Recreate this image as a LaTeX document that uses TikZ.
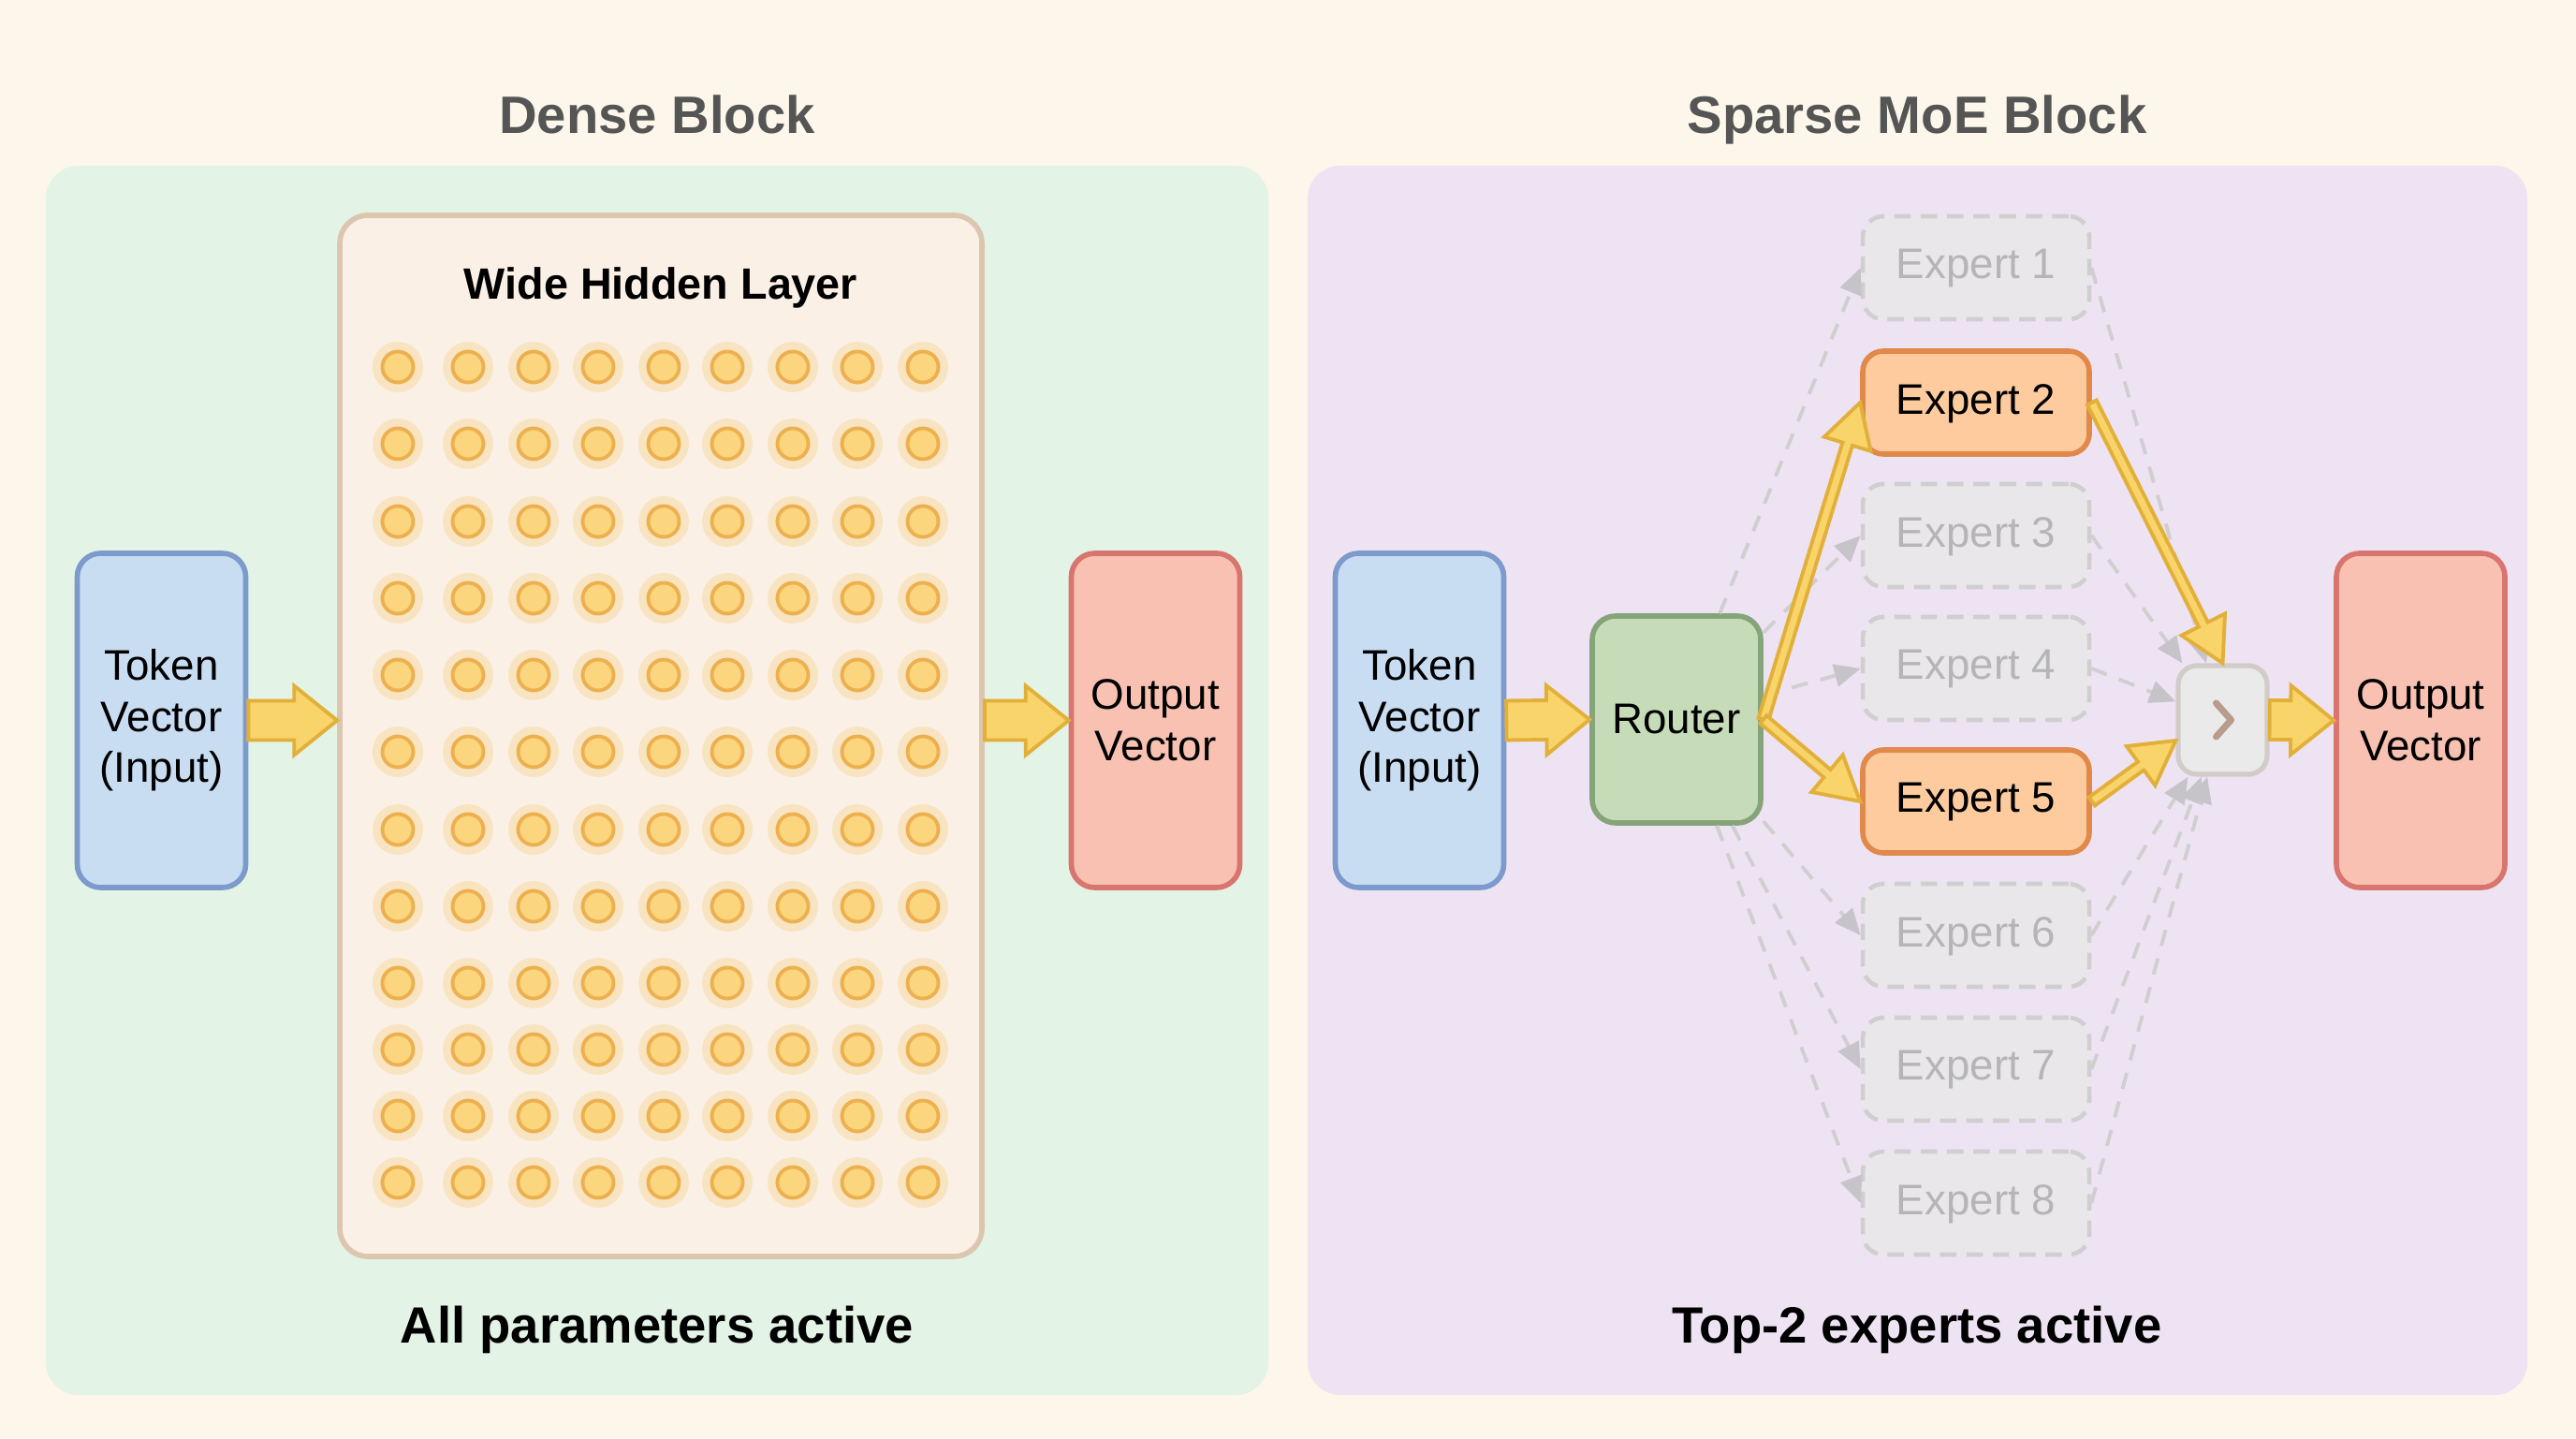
\documentclass[tikz,border=0pt]{standalone}
\usepackage{fontspec}
\setmainfont{Liberation Sans}
\usepackage{xcolor}
\usetikzlibrary{calc,positioning,arrows.meta}

\definecolor{pagebg}{HTML}{FCF7EA}
\definecolor{densebg}{HTML}{E3F3E5}
\definecolor{sparsebg}{HTML}{EEE3F3}
\definecolor{titlegray}{HTML}{555555}
\definecolor{tokfill}{HTML}{C8DCF2}
\definecolor{tokedge}{HTML}{7C9ACB}
\definecolor{outfill}{HTML}{F8C1B1}
\definecolor{outedge}{HTML}{D9756F}
\definecolor{routfill}{HTML}{C6DCB8}
\definecolor{routedge}{HTML}{86A47A}
\definecolor{hidfill}{HTML}{FAF0E6}
\definecolor{hidedge}{HTML}{DCC6B0}
\definecolor{expfill}{HTML}{FDCB9E}
\definecolor{expedge}{HTML}{E0894A}
\definecolor{idlefill}{HTML}{EAE7EB}
\definecolor{idleedge}{HTML}{CFCFCF}
\definecolor{idletip}{HTML}{C6C4C8}
\definecolor{idletext}{HTML}{B5B5B5}
\definecolor{arrowfill}{HTML}{F8D46A}
\definecolor{arrowedge}{HTML}{E2B03A}
\definecolor{dotfill}{HTML}{FCD67E}
\definecolor{dotedge}{HTML}{EDB04F}
\definecolor{dotglow}{HTML}{F7C766}
\definecolor{combfill}{HTML}{EAEAEA}
\definecolor{combedge}{HTML}{D2CCC8}
\definecolor{chevron}{HTML}{B89C8E}

\tikzset{
  fatarrow/.style n args={3}{draw=arrowedge, fill=arrowfill, line width=1.1pt, line join=miter,
    to path={let \p1=(\tikztostart), \p2=(\tikztotarget),
        \n1={atan2(\y2-\y1,\x2-\x1)}, \n2={veclen(\x2-\x1,\y2-\y1)} in
      ($(\p1)+(\n1+90:#1)$)
      -- ($(\p1)+(\n1:\n2-#3)+(\n1+90:#1)$)
      -- ($(\p1)+(\n1:\n2-#3)+(\n1+90:#2)$)
      -- (\p2)
      -- ($(\p1)+(\n1:\n2-#3)+(\n1-90:#2)$)
      -- ($(\p1)+(\n1:\n2-#3)+(\n1-90:#1)$)
      -- ($(\p1)+(\n1-90:#1)$) -- cycle}}
}

\begin{document}
\begin{tikzpicture}[
  txt/.style={font=\fontsize{13}{15.5}\selectfont, align=center},
  vecbox/.style={rectangle, txt, line width=1.6pt, rounded corners=0.25cm, minimum width=1.8cm, minimum height=3.57cm},
  tokbox/.style={vecbox, draw=tokedge, fill=tokfill},
  outbox/.style={vecbox, draw=outedge, fill=outfill},
  routbox/.style={rectangle, txt, draw=routedge, fill=routfill, line width=1.6pt, rounded corners=0.25cm, minimum width=1.8cm, minimum height=2.21cm},
  expert/.style={rectangle, txt, text depth=0.4ex, draw=expedge, fill=expfill, line width=1.6pt, rounded corners=0.22cm, minimum width=2.42cm, minimum height=1.1cm},
  idle/.style={rectangle, txt, text depth=0.4ex, text=idletext, draw=idleedge, fill=idlefill, line width=1.3pt, dash pattern=on 5pt off 3pt, rounded corners=0.22cm, minimum width=2.42cm, minimum height=1.1cm},
  idlearrow/.style={draw=idleedge, line width=1.1pt, dash pattern=on 5pt off 4pt, -{Triangle[length=0.28cm, width=0.24cm, color=idletip]}},
  blockarrow/.style={fatarrow={0.21cm}{0.37cm}{0.46cm}},
  thinarrow/.style={fatarrow={0.055cm}{0.26cm}{0.46cm}},
  paneltitle/.style={anchor=base, font=\fontsize{16}{19}\selectfont\bfseries, text=titlegray},
  panelnote/.style={anchor=base, font=\fontsize{15.5}{19}\selectfont\bfseries, text=black}
]

% Page and panels
\fill[pagebg] (0,0) rectangle (27.52,15.36);
\useasboundingbox (0,0) rectangle (27.52,15.36);
\fill[densebg, rounded corners=0.35cm] (0.49,0.46) rectangle (13.55,13.59);
\fill[sparsebg, rounded corners=0.35cm] (13.97,0.46) rectangle (27.00,13.59);

\node[paneltitle] (densetitle) at (7.02,13.93) {Dense Block};
\node[paneltitle] (sparsetitle) at (20.48,13.93) {Sparse MoE Block};
\node[panelnote] (densenote) at (7.02,1.02) {All parameters active};
\node[panelnote] (sparsenote) at (20.48,1.02) {Top-2 experts active};

% Dense block
\node[tokbox] (tok1) at (1.725,7.665) {Token\\Vector\\(Input)};
\node[rectangle, draw=hidedge, fill=hidfill, line width=1.6pt, rounded corners=0.3cm,
      minimum width=6.86cm, minimum height=11.12cm] (hidden) at (7.06,7.50) {};
\node[font=\fontsize{13.3}{16}\selectfont\bfseries] (hidtitle) at (7.06,12.29) {Wide Hidden Layer};
\node[outbox] (out1) at (12.345,7.665) {Output\\Vector};

% neurons
\foreach \y in {11.44,10.62,9.79,8.97,8.15,7.33,6.50,5.68,4.86,4.15,3.44,2.73}
  \foreach \x in {4.25,5.00,5.70,6.39,7.09,7.77,8.47,9.16,9.86} {
    \fill[dotglow, opacity=0.28] (\x,\y) circle (0.27);
    \draw[dotedge, fill=dotfill, line width=1.1pt] (\x,\y) circle (0.165);
  }

\draw[blockarrow] (tok1.east) to (hidden.west |- tok1.east);
\draw[blockarrow] (hidden.east |- out1.west) to (out1.west);

% Sparse MoE block
\node[tokbox] (tok2) at (15.165,7.665) {Token\\Vector\\(Input)};
\node[routbox] (router) at (17.91,7.675) {Router};
\node[outbox] (out2) at (25.86,7.665) {Output\\Vector};
\node[rectangle, draw=combedge, fill=combfill, line width=1.5pt, rounded corners=0.2cm,
      minimum width=0.95cm, minimum height=1.16cm] (comb) at (23.745,7.67) {};
\draw[chevron, line width=2pt, line cap=round, line join=round]
  ([shift={(-0.07,0.18)}]comb.center) -- ([shift={(0.09,0)}]comb.center) -- ([shift={(-0.07,-0.18)}]comb.center);

\foreach \i/\y in {1/12.50,3/9.64,4/8.22,6/5.37,7/3.94,8/2.51}
  \node[idle] (e\i) at (21.11,\y) {Expert \i};
\node[expert] (e2) at (21.11,11.06) {Expert 2};
\node[expert] (e5) at (21.11,6.80) {Expert 5};

% inactive routes
\foreach \i in {1,3,4,6,7,8} {
  \draw[idlearrow] (router) -- (e\i.west);
  \draw[idlearrow] (e\i.east) -- (comb);
}

% active routes
\draw[blockarrow] (tok2.east) to (router.west);
\draw[thinarrow] (router.east) to (e2.west);
\draw[thinarrow] (router.east) to (e5.west);
\draw[thinarrow] (e2.east) to (comb.north);
\draw[thinarrow] (e5.east) to ([yshift=-0.22cm]comb.west);
\draw[blockarrow] (comb.east) to (out2.west);

\end{tikzpicture}
\end{document}
